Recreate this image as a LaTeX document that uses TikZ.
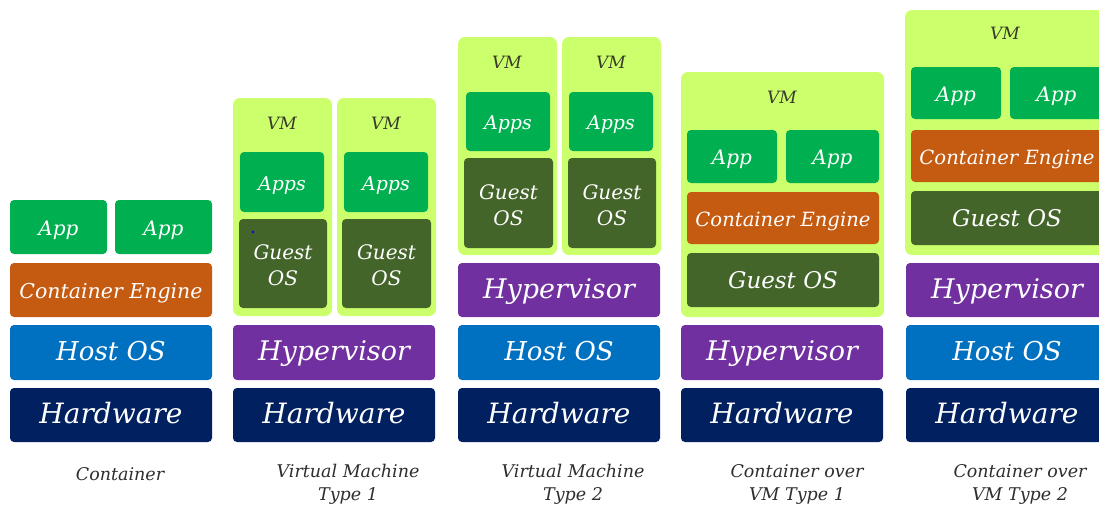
\documentclass[tikz,border=0pt]{standalone}
\usepackage{fontspec}
\setmainfont{DejaVu Serif}
\definecolor{hwc}{HTML}{002060}
\definecolor{hostc}{HTML}{0070C0}
\definecolor{hypc}{HTML}{7030A0}
\definecolor{cec}{HTML}{C55A11}
\definecolor{appc}{HTML}{00B050}
\definecolor{gosc}{HTML}{44652A}
\definecolor{vmc}{HTML}{CCFF6C}
\definecolor{vmtxt}{HTML}{3A3A2A}
\definecolor{lbl}{HTML}{2E2E2E}
\newcommand\bx[7]{\node[#1, minimum width={(#4-#2)*1pt}, minimum height={(#5-#3)*1pt}] (#7) at ({(#2+#4)/2},{(#3+#5)/2}) {#6};}
\begin{document}
\begin{tikzpicture}[x=1pt,y=-1pt,
  blk/.style={rounded corners=4pt, inner sep=0pt, outer sep=0pt, text=white, align=center},
  one/.style={text height=16pt, text depth=0pt},
  hw/.style={blk, one, fill=hwc, font=\itshape\fontsize{28}{30}\selectfont},
  host/.style={blk, one, fill=hostc, font=\itshape\fontsize{26}{28}\selectfont},
  hyp/.style={blk, one, fill=hypc, font=\itshape\fontsize{27}{29}\selectfont},
  ce/.style={blk, one, fill=cec, font=\itshape\fontsize{20.5}{22}\selectfont},
  cein/.style={blk, one, fill=cec, font=\itshape\fontsize{19.6}{22}\selectfont},
  app/.style={blk, one, fill=appc, font=\itshape\fontsize{20}{22}\selectfont},
  apps/.style={blk, one, fill=appc, font=\itshape\fontsize{19}{22}\selectfont},
  gos/.style={blk, fill=gosc, text depth=0pt, font=\itshape\fontsize{20}{26}\selectfont},
  gosw/.style={blk, one, fill=gosc, font=\itshape\fontsize{23}{26}\selectfont},
  vm/.style={blk, rounded corners=7pt, fill=vmc},
  vmlbl/.style={text=vmtxt, inner sep=0pt, font=\itshape\fontsize{17}{18}\selectfont},
  capl/.style={text=lbl, inner sep=0pt, align=center, font=\itshape\fontsize{17.5}{23}\selectfont}
]
\useasboundingbox (0,0) rectangle (1099,507);
\clip (0,0) rectangle (1099,507);
\fill[white] (0,0) rectangle (1099,507);

% ---------- Stack 1: Container ----------
\bx{hw}{10}{388}{212}{442}{Hardware}{hw1}
\bx{host}{10}{325}{212}{380}{Host OS}{host1}
\bx{ce}{10}{263}{212}{317}{Container Engine}{ce1}
\bx{app}{10}{200}{107}{254}{App}{app1a}
\bx{app}{115}{200}{212}{254}{App}{app1b}
\node[capl] (cap1) at (120,474) {Container};

% ---------- Stack 2: VM Type 1 ----------
\bx{hw}{233}{388}{435}{442}{Hardware}{hw2}
\bx{hyp}{233}{325}{435}{380}{Hypervisor}{hyp2}
\bx{vm}{233}{98}{332}{316}{}{vm2a}
\bx{vm}{337}{98}{436}{316}{}{vm2b}
\node[vmlbl] (vml2a) at (282,123) {VM};
\node[vmlbl] (vml2b) at (386,123) {VM};
\bx{apps}{240}{152}{324}{212}{Apps}{apps2a}
\bx{apps}{344}{152}{428}{212}{Apps}{apps2b}
\bx{gos}{239}{219}{327}{308}{}{gos2a}
\bx{gos}{342}{219}{431}{308}{}{gos2b}
\node[gos, fill=none] (gt2a) at ([yshift=-2pt]gos2a.center) {Guest\\OS};
\node[gos, fill=none] (gt2b) at ([yshift=-2pt]gos2b.center) {Guest\\OS};
\fill[blue] (253,232) circle (1.3);
\node[capl] (cap2) at (348,484) {Virtual Machine\\Type 1};

% ---------- Stack 3: VM Type 2 ----------
\bx{hw}{458}{388}{660}{442}{Hardware}{hw3}
\bx{host}{458}{325}{660}{380}{Host OS}{host3}
\bx{hyp}{458}{263}{660}{317}{Hypervisor}{hyp3}
\bx{vm}{458}{37}{557}{255}{}{vm3a}
\bx{vm}{562}{37}{661}{255}{}{vm3b}
\node[vmlbl] (vml3a) at (507,62) {VM};
\node[vmlbl] (vml3b) at (611,62) {VM};
\bx{apps}{466}{92}{550}{151}{Apps}{apps3a}
\bx{apps}{569}{92}{653}{151}{Apps}{apps3b}
\bx{gos}{464}{158}{553}{248}{}{gos3a}
\bx{gos}{568}{158}{656}{248}{}{gos3b}
\node[gos, fill=none] (gt3a) at ([yshift=-2pt]gos3a.center) {Guest\\OS};
\node[gos, fill=none] (gt3b) at ([yshift=-2pt]gos3b.center) {Guest\\OS};
\node[capl] (cap3) at (573,484) {Virtual Machine\\Type 2};

% ---------- Stack 4: Container over VM Type 1 ----------
\bx{hw}{681}{388}{883}{442}{Hardware}{hw4}
\bx{hyp}{681}{325}{883}{380}{Hypervisor}{hyp4}
\bx{vm}{681}{72}{884}{317}{}{vm4}
\node[vmlbl] (vml4) at (782,97) {VM};
\bx{app}{687}{130}{777}{183}{App}{app4a}
\bx{app}{786}{130}{879}{183}{App}{app4b}
\bx{cein}{687}{192}{879}{244}{Container Engine}{ce4}
\bx{gosw}{687}{253}{879}{307}{Guest OS}{gos4}
\node[capl] (cap4) at (797,484) {Container over\\VM Type 1};

% ---------- Stack 5: Container over VM Type 2 ----------
\bx{hw}{906}{388}{1108}{442}{Hardware}{hw5}
\bx{host}{906}{325}{1108}{380}{Host OS}{host5}
\bx{hyp}{906}{263}{1108}{317}{Hypervisor}{hyp5}
\bx{vm}{905}{10}{1112}{255}{}{vm5}
\node[vmlbl] (vml5) at (1005,33) {VM};
\bx{app}{911}{67}{1001}{119}{App}{app5a}
\bx{app}{1010}{67}{1103}{119}{App}{app5b}
\bx{cein}{911}{130}{1103}{182}{Container Engine}{ce5}
\bx{gosw}{911}{191}{1103}{245}{Guest OS}{gos5}
\node[capl] (cap5) at (1020,484) {Container over\\VM Type 2};
\end{tikzpicture}
\end{document}
